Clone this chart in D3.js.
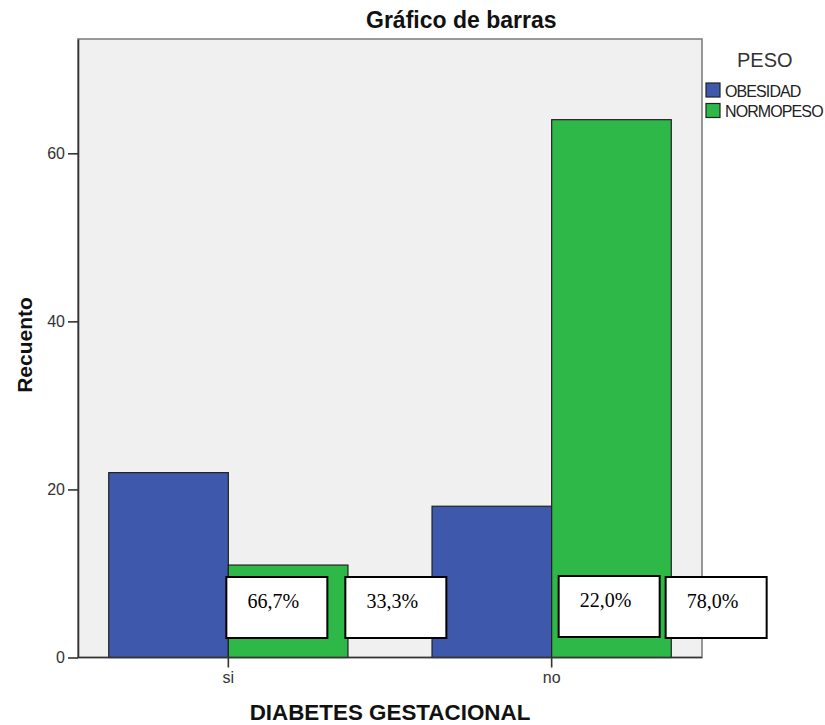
<!DOCTYPE html>
<html>
<head>
<meta charset="utf-8">
<script src="https://cdn.jsdelivr.net/npm/d3@7"></script>
<style>
  body { margin: 0; background: #fff; }
  svg text { font-family: Arial, "Liberation Sans", sans-serif; }
</style>
</head>
<body>
<svg id="chart" width="825" height="725"></svg>
<script>
const categories = ['si', 'no'];
const series = ['OBESIDAD', 'NORMOPESO'];
const obesidad = [22, 18];
const normopeso = [11, 64];
const yTicks = [0, 20, 40, 60];
const colors = ['#3e58ac', '#2eb848'];

const plot = { left: 78, right: 702, top: 39, bottom: 657.5 };
const yMax = 73.6;

const svg = d3.select('#chart');

const x0 = d3.scaleBand()
  .domain(categories)
  .range([plot.left, plot.right])
  .paddingInner(0.26)
  .paddingOuter(0.095);

const x1 = d3.scaleBand()
  .domain(series)
  .range([0, x0.bandwidth()]);

const y = d3.scaleLinear()
  .domain([0, yMax])
  .range([plot.bottom, plot.top]);

const color = d3.scaleOrdinal().domain(series).range(colors);

// plot background + frame
svg.append('rect')
  .attr('x', plot.left)
  .attr('y', plot.top)
  .attr('width', plot.right - plot.left)
  .attr('height', plot.bottom - plot.top)
  .attr('fill', '#f0f0f0')
  .attr('stroke', '#808080')
  .attr('stroke-width', 1.6);

const rows = categories.map((c, i) => ({
  cat: c,
  values: [
    { key: series[0], value: obesidad[i] },
    { key: series[1], value: normopeso[i] }
  ]
}));

const groups = svg.append('g').selectAll('g')
  .data(rows)
  .join('g')
  .attr('transform', d => `translate(${x0(d.cat)},0)`);

groups.selectAll('rect')
  .data(d => d.values)
  .join('rect')
  .attr('x', d => x1(d.key))
  .attr('y', d => y(d.value))
  .attr('width', x1.bandwidth())
  .attr('height', d => y(0) - y(d.value))
  .attr('fill', d => color(d.key))
  .attr('stroke', '#222')
  .attr('stroke-width', 1.2);

// axes
const yAxis = svg.append('g')
  .attr('transform', `translate(${plot.left},0)`)
  .call(d3.axisLeft(y).tickValues(yTicks).tickSize(10).tickSizeOuter(0).tickPadding(3).tickFormat(d3.format('d')));
yAxis.select('.domain').attr('stroke', '#333').attr('stroke-width', 1.6);
yAxis.selectAll('.tick line').attr('stroke', '#333').attr('stroke-width', 1.6);
yAxis.selectAll('.tick text')
  .attr('font-size', 16)
  .attr('fill', '#333')
  .attr('font-family', 'Arial, "Liberation Sans", sans-serif');

const xAxis = svg.append('g')
  .attr('transform', `translate(0,${plot.bottom})`)
  .call(d3.axisBottom(x0).tickSize(10).tickPadding(4).tickSizeOuter(0));
xAxis.select('.domain').attr('stroke', '#333').attr('stroke-width', 1.6)
  .attr('d', `M${plot.left},0H${plot.right}`);
xAxis.selectAll('.tick line').attr('stroke', '#333').attr('stroke-width', 1.6);
xAxis.selectAll('.tick text')
  .attr('font-size', 16)
  .attr('fill', '#333')
  .attr('font-family', 'Arial, "Liberation Sans", sans-serif');

// percentage annotation boxes (share of each series within a category)
const totals = categories.map((c, i) => obesidad[i] + normopeso[i]);
const pctFormat = v => d3.format('.1f')(v).replace('.', ',') + '%';
const boxShift = [[-2, 117], [7, 114]];
const boxW = 101, boxH = 61;

rows.forEach((row, i) => {
  row.values.forEach((v, j) => {
    const cx = x0(row.cat) + x0.bandwidth() / 2 + boxShift[i][j];
    const top = y(0) - 80.5 - (i === 1 && j === 0 ? 1 : 0);
    svg.append('rect')
      .attr('x', cx)
      .attr('y', top)
      .attr('width', boxW)
      .attr('height', boxH)
      .attr('fill', '#fff')
      .attr('stroke', '#000')
      .attr('stroke-width', 2);
    svg.append('text')
      .attr('x', cx + boxW / 2 - 3.5)
      .attr('y', top + 31)
      .attr('text-anchor', 'middle')
      .attr('font-size', 20)
      .style('font-family', '"Liberation Serif", "Times New Roman", serif')
      .attr('fill', '#000')
      .text(pctFormat(v.value / totals[i] * 100));
  });
});

// titles
svg.append('text')
  .attr('x', 366)
  .attr('y', 28)
  .attr('font-size', 23)
  .attr('font-weight', 'bold')
  .attr('fill', '#111')
  .text('Gráfico de barras');

svg.append('text')
  .attr('x', (plot.left + plot.right) / 2)
  .attr('y', 720)
  .attr('text-anchor', 'middle')
  .attr('font-size', 22.4)
  .attr('font-weight', 'bold')
  .attr('fill', '#111')
  .text('DIABETES GESTACIONAL');

svg.append('text')
  .attr('transform', `translate(32,345) rotate(-90)`)
  .attr('text-anchor', 'middle')
  .attr('font-size', 21)
  .attr('font-weight', 'bold')
  .attr('fill', '#111')
  .text('Recuento');

// legend
const legend = svg.append('g').attr('transform', 'translate(706,0)');
legend.append('text')
  .attr('x', 31)
  .attr('y', 67)
  .attr('font-size', 20)
  .attr('fill', '#333')
  .text('PESO');

const items = legend.selectAll('g.item')
  .data(series)
  .join('g')
  .attr('class', 'item')
  .attr('transform', (d, i) => `translate(0,${83 + i * 20.5})`);

items.append('rect')
  .attr('width', 14)
  .attr('height', 14)
  .attr('fill', d => color(d))
  .attr('stroke', '#222')
  .attr('stroke-width', 1.2);

items.append('text')
  .attr('x', 19)
  .attr('y', 13.5)
  .attr('font-size', 16)
  .attr('letter-spacing', -0.9)
  .attr('fill', '#222')
  .text(d => d);
</script>
</body>
</html>
